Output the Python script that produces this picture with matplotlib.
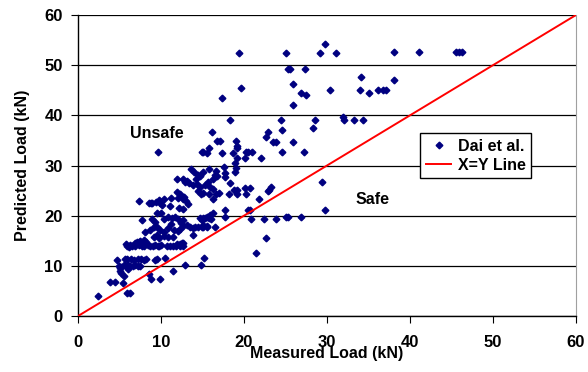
import matplotlib.pyplot as plt
import numpy as np

# measured vs predicted load (kN)
pts = [
    (19.4, 52.5), (25.1, 52.5), (29.1, 52.4), (29.8, 54.3), (31.1, 52.5), (38.1, 52.7), (41.1, 52.7),
    (45.5, 52.7), (45.9, 52.7), (46.3, 52.7), (25.3, 49.3), (25.6, 49.3), (27.3, 49.3),
    (19.6, 45.4), (25.9, 46.2), (26.9, 44.5), (27.5, 44.0), (25.9, 42.0), (30.3, 45.0), (17.3, 43.5),
    (34.1, 47.7), (38.1, 47.1), (34.0, 45.0), (35.1, 44.5), (36.1, 45.0), (36.8, 45.0), (37.1, 45.0),
    (18.3, 39.0), (24.5, 39.0), (28.5, 39.0), (24.6, 37.1), (28.3, 37.5), (22.9, 36.6), (22.7, 35.7),
    (31.9, 39.6), (32.0, 39.0), (33.2, 39.0), (34.3, 39.0),
    (19.0, 34.9), (23.5, 34.7), (23.8, 34.7), (25.9, 34.7), (19.2, 33.9), (19.1, 33.4),
    (20.2, 32.7), (20.5, 32.7), (21.0, 32.7), (24.6, 32.7), (27.2, 32.7),
    (19.1, 31.5), (20.1, 31.5), (22.0, 31.4), (18.9, 30.4), (18.9, 28.8),
    (29.4, 26.8), (29.8, 21.2), (26.9, 19.8),
    (16.2, 36.6), (16.7, 34.9), (17.1, 34.9), (15.8, 33.4), (14.9, 32.7), (15.5, 32.5), (17.4, 32.5),
    (18.7, 32.5), (15.0, 32.6), (9.6, 32.7),
    (19.0, 29.6), (17.6, 29.8), (17.7, 28.5), (16.6, 29.0), (16.5, 28.2),
    (13.6, 29.4), (14.0, 28.7), (15.1, 28.7), (15.8, 29.4), (14.4, 28.1), (14.2, 27.4), (14.7, 27.9),
    (16.3, 27.4), (16.7, 27.9), (17.7, 27.8), (18.3, 26.6),
    (11.9, 27.4), (12.7, 27.4), (12.9, 26.8), (14.3, 26.4), (14.7, 25.8), (15.3, 26.1), (15.6, 26.8),
    (15.9, 25.8), (13.4, 26.5), (13.8, 26.2), (13.1, 27.0),
    (18.8, 25.2), (20.1, 25.6), (20.7, 25.6), (19.2, 25.1), (19.1, 24.4), (20.2, 24.4), (18.2, 24.4),
    (23.3, 25.8), (23.0, 25.2), (22.9, 25.0), (21.8, 23.4),
    (14.5, 25.0), (15.0, 24.6), (15.8, 24.3), (16.3, 25.3), (17.0, 24.6), (14.8, 24.3), (16.6, 24.4),
    (11.9, 24.8), (12.3, 24.3), (12.8, 23.8), (12.6, 23.3), (13.0, 23.0), (11.2, 23.5), (12.0, 23.5),
    (7.35, 22.9), (8.8, 22.6), (8.5, 22.6), (8.9, 22.5), (9.4, 22.8), (9.7, 23.1), (9.9, 22.6),
    (10.1, 22.1), (10.3, 23.3), (11.1, 22.0), (12.2, 21.6), (13.3, 22.4), (12.6, 21.4), (16.3, 23.4),
    (20.5, 21.1), (20.7, 21.1), (17.7, 21.1), (16.3, 20.6), (15.9, 20.1), (9.5, 20.6), (10.0, 20.6),
    (7.7, 19.1), (8.9, 19.3), (9.3, 18.8), (10.3, 19.3), (10.8, 19.8), (11.3, 19.6), (11.7, 19.8),
    (12.1, 19.3), (12.7, 19.1), (13.1, 18.1), (13.5, 17.8), (13.9, 17.6), (14.5, 17.8), (15.0, 18.1),
    (15.5, 17.9), (15.7, 19.8), (14.7, 19.5), (15.1, 19.5), (15.3, 19.5), (15.5, 19.8), (15.8, 19.6),
    (16.0, 19.3), (14.9, 19.1), (17.7, 19.8),
    (20.8, 19.3), (22.4, 19.3), (23.8, 19.3), (25.0, 19.8), (25.3, 19.8),
    (14.1, 17.8), (14.9, 17.8), (15.1, 17.8), (15.5, 17.8), (16.5, 17.8), (12.3, 17.3), (12.6, 18.0),
    (8.1, 16.8), (8.7, 17.1), (9.1, 17.7), (9.5, 17.7), (9.9, 17.1), (10.4, 16.8), (10.8, 17.6),
    (11.2, 18.3), (11.6, 17.1), (12.0, 16.9), (12.4, 18.5),
    (11.5, 15.7), (9.1, 15.8), (9.5, 16.1), (9.8, 15.6), (10.4, 15.9), (10.8, 15.7),
    (13.9, 16.1), (12.5, 14.5), (12.7, 14.5),
    (7.5, 14.9), (7.9, 15.1), (8.2, 14.8), (7.3, 14.7), (6.9, 14.6), (7.1, 14.8),
    (5.9, 14.0), (6.3, 14.1), (6.5, 13.9), (6.9, 14.0), (7.3, 14.1), (7.7, 13.9), (8.0, 14.0),
    (8.4, 14.1), (8.7, 13.9), (9.0, 14.0), (9.3, 14.1), (9.6, 13.9), (9.8, 14.0), (10.0, 14.1),
    (10.7, 13.9), (11.1, 14.0), (11.5, 13.9), (11.8, 14.0), (12.3, 13.9), (12.7, 13.9),
    (11.9, 14.4), (12.3, 14.4), (6.2, 13.7), (5.8, 14.3),
    (22.6, 15.5), (21.4, 12.6), (15.2, 11.6), (14.8, 10.2), (12.9, 10.1), (11.5, 9.0),
    (9.9, 7.3), (8.6, 8.3), (8.8, 7.3),
    (5.6, 11.3), (5.9, 11.3), (6.4, 11.3), (6.8, 11.2), (7.2, 11.3), (7.6, 11.3), (8.0, 11.2),
    (8.2, 11.3), (9.3, 11.2), (9.5, 11.3), (10.5, 11.6), (4.7, 11.2),
    (4.9, 10.0), (5.2, 9.8), (5.5, 10.1), (5.8, 9.9), (6.0, 10.2), (6.3, 9.9), (6.6, 10.0),
    (6.9, 10.1), (7.2, 9.9), (7.5, 10.0),
    (5.0, 9.0), (5.2, 8.5), (5.5, 8.0), (6.0, 9.3), (5.1, 9.5),
    (2.4, 4.0), (3.9, 6.7), (4.4, 6.7), (5.4, 6.5), (5.9, 4.6), (6.3, 4.6),
]
measured = [p[0] for p in pts]
predicted = [p[1] for p in pts]
xy_line = [0, 60]

plt.rcParams['font.family'] = ['Liberation Sans', 'DejaVu Sans']
plt.rcParams['font.weight'] = 'bold'

fig = plt.figure(figsize=(5.88, 3.72), dpi=100)
ax = fig.add_axes([0.1327, 0.1505, 0.8469, 0.8092])

ax.plot(measured, predicted, linestyle='none', marker='D', ms=3.4,
        color='#000080', label='Dai et al.', zorder=3)
ax.plot(xy_line, xy_line, color='red', lw=1.4, label='X=Y Line', zorder=4)

ax.set_xlim(0, 60)
ax.set_ylim(0, 60)
ax.set_xticks(np.arange(0, 61, 10))
ax.set_yticks(np.arange(0, 61, 10))
ax.yaxis.grid(True, color='black', lw=0.9)
ax.set_axisbelow(True)
ax.spines['top'].set_visible(False)
ax.spines['right'].set_color('#a0a0a0')
ax.spines['left'].set_linewidth(1.0)
ax.spines['bottom'].set_linewidth(1.0)
ax.tick_params(axis='x', direction='out', length=5, pad=9, labelsize=12)
ax.tick_params(axis='y', direction='out', length=5, pad=6, labelsize=12)
for lab in ax.get_xticklabels() + ax.get_yticklabels():
    lab.set_fontweight('bold')

ax.set_xlabel('Measured Load (kN)', fontsize=11.5, fontweight='bold', labelpad=-3)
ax.set_ylabel('Predicted Load (kN)', fontsize=11.5, fontweight='bold', labelpad=10)

ax.text(9.5, 36.3, 'Unsafe', fontsize=11.5, fontweight='bold', ha='center', va='center')
ax.text(35.5, 23.3, 'Safe', fontsize=11.5, fontweight='bold', ha='center', va='center')

leg = ax.legend(loc='upper left', bbox_to_anchor=(0.687, 0.608), fancybox=False,
                edgecolor='black', framealpha=1, fontsize=11.5, handlelength=1.6,
                handletextpad=0.4, borderpad=0.35, labelspacing=0.25, borderaxespad=0)
leg.get_frame().set_linewidth(1.0)
for t in leg.get_texts():
    t.set_fontweight('bold')

fig.savefig('out.png', dpi=100)
